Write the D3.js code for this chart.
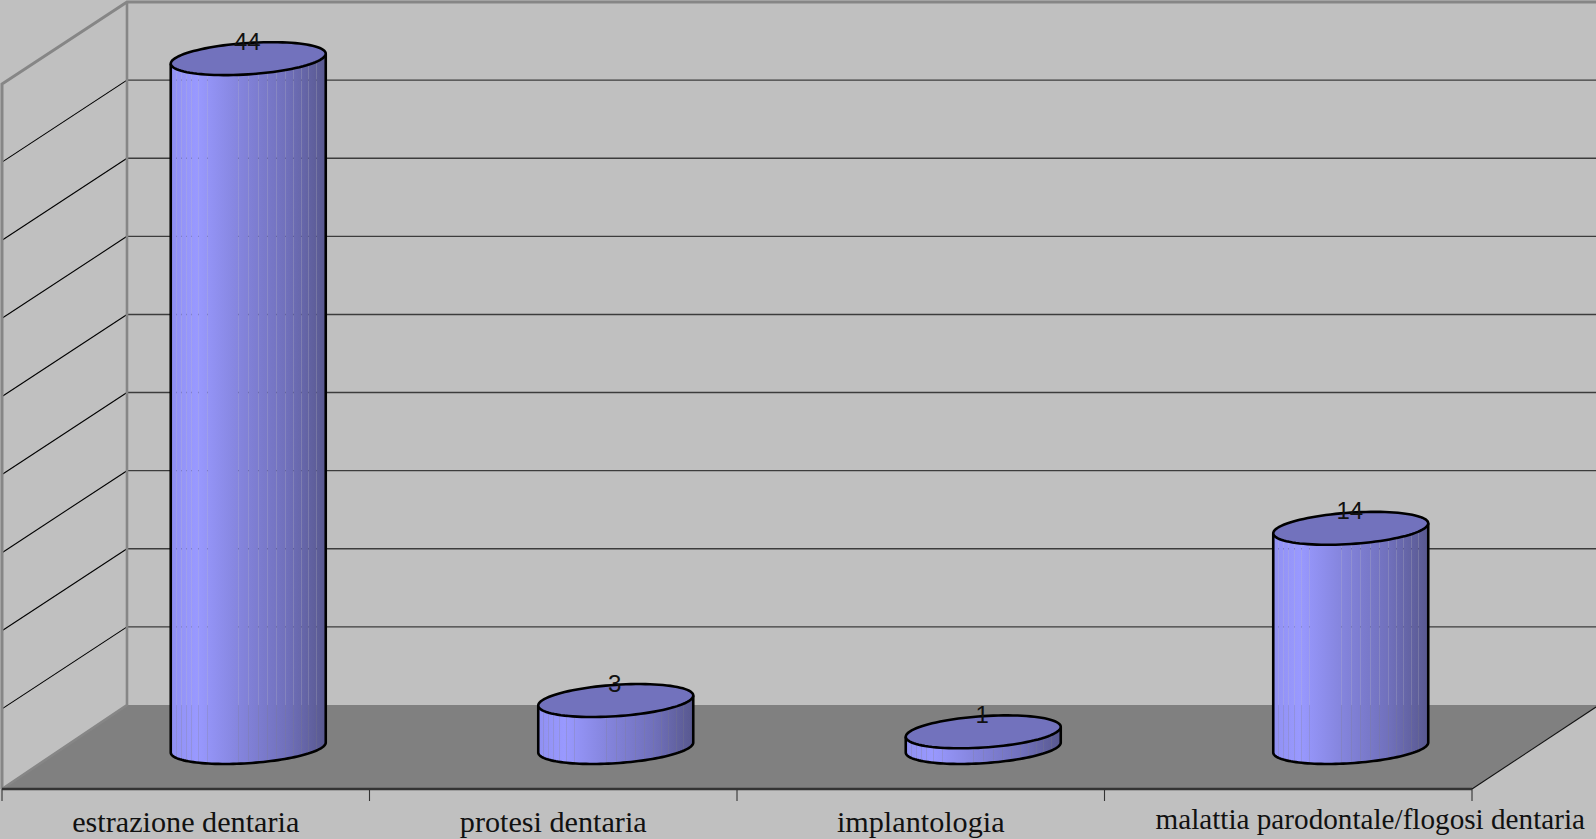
<!DOCTYPE html>
<html lang="it">
<head>
<meta charset="utf-8">
<title>Interventi odontoiatrici</title>
<script src="https://cdn.jsdelivr.net/npm/d3@7/dist/d3.min.js"></script>
<style>
  html, body { margin: 0; padding: 0; background: #c0c0c0; overflow: hidden; }
  svg { display: block; }
</style>
</head>
<body>
<svg id="chart" width="1596" height="839"></svg>
<script>
const categories = ["estrazione dentaria", "protesi dentaria", "implantologia", "malattia parodontale/flogosi dentaria"];
const values = [44, 3, 1, 14];
const gridValues = [0, 5, 10, 15, 20, 25, 30, 35, 40, 45];
// Facet boundaries of the cylinder surface, as fractions of its width.
const facets = [0, .032, .065, .097, .133, .176, .232, .434, .5, .56, .624, .68, .738, .79, .84, .886, .935, 1];

const W = 1596, H = 839;
const depthX = 125, depthY = 84;
const frontLeft = 2, frontRight = 1472, floorFront = 789, floorBack = 705;

const svg = d3.select("#chart");
const x = d3.scaleBand().domain(categories).range([frontLeft, frontRight]);
const wallY = d3.scaleLinear().domain([0, 45]).range([floorBack, 2]);
// Cylinders stand halfway into the depth of the floor.
const barY = d3.scaleLinear().domain([0, 45]).range([747.5, 43]);

const rx = 77.5, ry = 15.7, tilt = -5;
const line = d3.line();
const poly = pts => line(pts) + "Z";

// Back of the chart: walls and floor.
svg.append("rect").attr("width", W).attr("height", H).attr("fill", "#c0c0c0");
svg.append("path")
  .attr("d", poly([[frontLeft, floorFront], [frontLeft + depthX, floorBack], [W + 10, floorBack],
                   [frontRight + 134, floorBack - 5], [frontRight, floorFront]]))
  .attr("fill", "#808080");

// Horizontal gridlines on the back wall and their continuation on the side wall.
const inner = gridValues.slice(1, -1);
svg.append("g").selectAll("line").data(inner).join("line")
  .attr("x1", frontLeft + depthX).attr("x2", W)
  .attr("y1", d => wallY(d)).attr("y2", d => wallY(d))
  .attr("stroke", "#3c3c3c").attr("stroke-width", 1.4);
svg.append("g").selectAll("line").data(inner).join("line")
  .attr("x1", frontLeft).attr("x2", frontLeft + depthX)
  .attr("y1", d => wallY(d) + depthY - 2).attr("y2", d => wallY(d))
  .attr("stroke", "#000").attr("stroke-width", 1.1);

// Wall outline.
svg.append("path")
  .attr("d", line([[frontLeft, floorFront], [frontLeft, wallY(45) + depthY - 2], [frontLeft + depthX, wallY(45)], [W, wallY(45)]]))
  .attr("fill", "none").attr("stroke", "#868686").attr("stroke-width", 3);
svg.append("path")
  .attr("d", line([[frontLeft, floorFront], [frontLeft + depthX, floorBack], [frontLeft + depthX, wallY(45)]]))
  .attr("fill", "none").attr("stroke", "#868686").attr("stroke-width", 2.6);

// Front edge of the floor, its right edge, and the category ticks.
svg.append("line").attr("x1", frontLeft).attr("x2", frontRight).attr("y1", floorFront).attr("y2", floorFront)
  .attr("stroke", "#333").attr("stroke-width", 2.4);
svg.append("line").attr("x1", frontRight).attr("x2", W).attr("y1", floorFront).attr("y2", floorBack + 2)
  .attr("stroke", "#111").attr("stroke-width", 1.1);
const tickAt = categories.map(c => x(c)).concat(frontRight);
svg.append("g").selectAll("line").data(tickAt).join("line")
  .attr("x1", d => d).attr("x2", d => d).attr("y1", floorFront).attr("y2", floorFront + 12)
  .attr("stroke", "#333").attr("stroke-width", 1.1);

// Point on a tilted ellipse, centred on (cx, cy).
const ell = (cx, cy, t) => [cx + rx * Math.cos(t), cy + ry * Math.sin(t) + tilt * Math.cos(t)];
const arc = (cx, cy, t0, t1, n = 64) => d3.range(n + 1).map(i => ell(cx, cy, t0 + (t1 - t0) * i / n));

const defs = svg.append("defs");
const bars = svg.append("g").selectAll("g").data(values).join("g");

bars.each(function (v, i) {
  const g = d3.select(this);
  const cx = x(categories[i]) + x.bandwidth() / 2 + depthX / 2;
  const top = barY(v), base = barY(0);

  const grad = defs.append("linearGradient").attr("id", "cyl" + i)
    .attr("gradientUnits", "userSpaceOnUse")
    .attr("x1", cx - rx).attr("x2", cx + rx).attr("y1", 0).attr("y2", 0);
  [[0, "#9090f2"], [.17, "#9999ff"], [.45, "#8484dc"], [.75, "#7070bb"], [1, "#58588f"]]
    .forEach(([o, c]) => grad.append("stop").attr("offset", o).attr("stop-color", c));

  // Surface facets share fractional edges, which leaves the fine seams between them.
  const edges = facets.map((f, k) => (k === 0 || k === facets.length - 1)
    ? cx - rx + f * 2 * rx
    : Math.round(cx - rx + f * 2 * rx) + 0.5);
  const lowerY = (px, cy) => {
    const c = Math.max(-1, Math.min(1, (px - cx) / rx));
    const t = Math.acos(c);
    return cy + ry * Math.sin(t) + tilt * c;
  };
  const strips = d3.pairs(edges);
  g.append("g").selectAll("path").data(strips).join("path")
    .attr("fill", "url(#cyl" + i + ")")
    .attr("d", ([a, b]) => {
      const xs = d3.range(9).map(k => a + (b - a) * k / 8);
      return poly([[a, lowerY(a, top)], [b, lowerY(b, top)]].concat(xs.reverse().map(p => [p, lowerY(p, base)])));
    });

  // Silhouette of the body.
  const lower = arc(cx, base, 0, Math.PI);
  g.append("path")
    .attr("d", line([ell(cx, top, 0), ...lower, ell(cx, top, Math.PI)]))
    .attr("fill", "none").attr("stroke", "#000").attr("stroke-width", 2.6).attr("stroke-linejoin", "round");

  // Top cap.
  g.append("path")
    .attr("d", poly(arc(cx, top, 0, 2 * Math.PI, 96)))
    .attr("fill", "#7272bd").attr("stroke", "#000").attr("stroke-width", 2.6);

  // Value label.
  g.append("text")
    .attr("x", cx - 1).attr("y", top - 9)
    .attr("text-anchor", "middle")
    .attr("font-family", "'Liberation Sans', Arial, sans-serif")
    .attr("font-size", 24).attr("fill", "#111")
    .text(v);
});

// Category labels; the long last one sits further right, a little higher and smaller.
const labelShift = [0, 0, 0, 82];
const labelRise = [0, 0, 0, 3];
const labelSize = [30.2, 30.2, 30.2, 29.2];
svg.append("g").selectAll("text").data(categories).join("text")
  .attr("x", (d, i) => x(d) + x.bandwidth() / 2 + labelShift[i])
  .attr("y", (d, i) => 832 - labelRise[i])
  .attr("text-anchor", "middle")
  .attr("font-family", "'Liberation Serif', 'Times New Roman', serif")
  .attr("font-size", (d, i) => labelSize[i]).attr("fill", "#111")
  .text(d => d);
</script>
</body>
</html>
